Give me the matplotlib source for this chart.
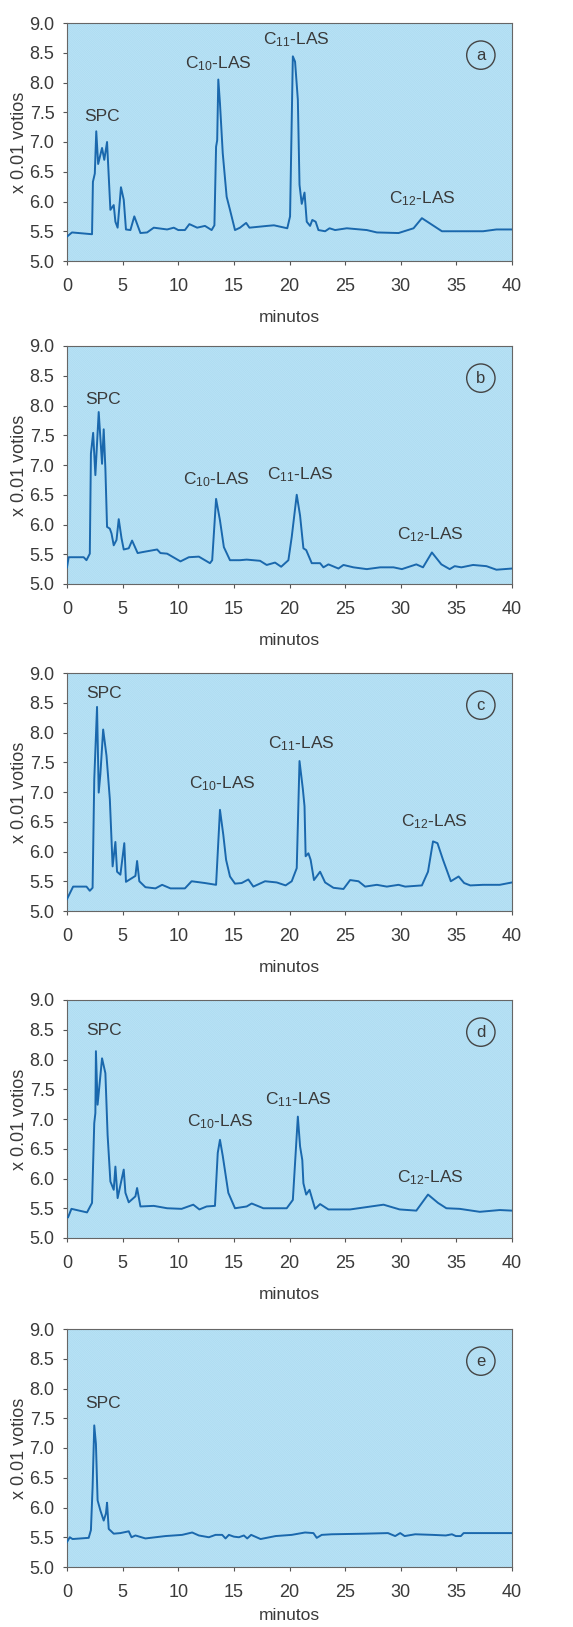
import matplotlib
matplotlib.use('Agg')
import matplotlib.pyplot as plt
from matplotlib.patches import Rectangle

plt.rcParams['font.family'] = ['Liberation Sans', 'DejaVu Sans']
plt.rcParams['mathtext.fontset'] = 'custom'
plt.rcParams['mathtext.rm'] = 'Liberation Sans'
plt.rcParams['mathtext.it'] = 'Liberation Sans'
plt.rcParams['hatch.linewidth'] = 0.5

# Chromatograms (minutes, x 0.01 volts).
TIME_A = [0, 0.45, 2.25, 2.33, 2.5, 2.63, 2.8, 3.15, 3.35, 3.6, 3.9, 4.2, 4.35, 4.55, 4.85,
          5.1, 5.3, 5.7, 6.05, 6.6, 7.2, 7.8, 9.0, 9.6, 10.0, 10.6, 11.0, 11.7, 12.4, 13.0,
          13.25, 13.4, 13.5, 13.6, 13.75, 14.0, 14.35, 14.65, 15.1, 15.55, 16.1, 16.4, 18.0,
          18.6, 19.8, 20.05, 20.3, 20.5, 20.75, 20.9, 21.1, 21.35, 21.55, 21.85, 22.05, 22.35,
          22.6, 23.2, 23.6, 24.1, 25.15, 26.95, 27.85, 29.8, 31.15, 31.9, 33.7, 35.9, 37.4,
          38.6, 40]
SIGNAL_A = [5.41, 5.48, 5.45, 6.33, 6.47, 7.18, 6.63, 6.9, 6.7, 7.0, 5.86, 5.94, 5.66, 5.56, 6.24,
            6.03, 5.53, 5.52, 5.75, 5.47, 5.48, 5.56, 5.53, 5.56, 5.52, 5.52, 5.62, 5.56, 5.59, 5.52,
            5.6, 6.92, 7.03, 8.05, 7.65, 6.81, 6.08, 5.86, 5.52, 5.56, 5.64, 5.56, 5.59,
            5.6, 5.55, 5.75, 8.44, 8.35, 7.71, 6.28, 5.96, 6.15, 5.66, 5.59, 5.69, 5.66,
            5.52, 5.5, 5.55, 5.52, 5.55, 5.52, 5.48, 5.47, 5.55, 5.72, 5.5, 5.5, 5.5,
            5.53, 5.53]

TIME_B = [0, 0.15, 1.5, 1.75, 2.05, 2.15, 2.35, 2.55, 2.85, 3.15, 3.3, 3.45, 3.6, 3.85, 4.0,
          4.2, 4.45, 4.65, 4.9, 5.1, 5.55, 5.85, 6.35, 6.9, 8.1, 8.4, 9.0, 10.2, 10.95, 11.85,
          12.85, 13.05, 13.4, 13.75, 14.1, 14.65, 15.55, 16.15, 17.35, 17.95, 18.7, 19.25,
          19.9, 20.2, 20.65, 20.95, 21.25, 21.5, 22.0, 22.75, 23.05, 23.5, 24.4, 24.85, 25.75,
          26.95, 28.15, 29.35, 30.1, 31.4, 32.0, 32.8, 33.65, 34.4, 34.85, 35.45, 36.5, 37.7,
          38.6, 40]
SIGNAL_B = [5.28, 5.45, 5.45, 5.4, 5.51, 7.19, 7.54, 6.83, 7.89, 7.02, 7.6, 6.94, 5.96, 5.93, 5.85,
            5.65, 5.74, 6.09, 5.77, 5.58, 5.6, 5.73, 5.52, 5.54, 5.58, 5.52, 5.51, 5.38, 5.45, 5.46,
            5.35, 5.4, 6.43, 6.07, 5.62, 5.4, 5.4, 5.41, 5.39, 5.32, 5.36, 5.29,
            5.4, 5.79, 6.5, 6.15, 5.6, 5.57, 5.35, 5.35, 5.28, 5.33, 5.26, 5.32, 5.28,
            5.25, 5.28, 5.28, 5.25, 5.33, 5.28, 5.53, 5.33, 5.25, 5.3, 5.28, 5.32, 5.3,
            5.24, 5.26]

TIME_C = [0, 0.55, 1.75, 2.05, 2.3, 2.45, 2.7, 2.85, 3.0, 3.25, 3.55, 3.85, 4.1, 4.35, 4.5,
          4.8, 5.15, 5.3, 6.15, 6.3, 6.5, 7.05, 7.95, 8.55, 9.3, 10.6, 11.2, 12.4, 13.4, 13.75,
          14.05, 14.3, 14.65, 15.1, 15.7, 16.3, 16.75, 17.8, 18.85, 19.65, 20.2, 20.65, 20.9,
          21.2, 21.35, 21.45, 21.7, 21.9, 22.2, 22.75, 23.2, 23.95, 24.85, 25.45, 26.2, 26.8,
          27.85, 28.75, 29.8, 30.4, 31.9, 32.45, 32.9, 33.3, 33.8, 34.5, 35.2, 35.7, 36.25,
          37.4, 38.9, 40]
SIGNAL_C = [5.2, 5.41, 5.41, 5.34, 5.39, 7.21, 8.43, 6.99, 7.3, 8.05, 7.61, 6.88, 5.75, 6.16, 5.66,
            5.61, 6.14, 5.49, 5.59, 5.84, 5.5, 5.4, 5.38, 5.44, 5.38, 5.38, 5.5, 5.47, 5.44, 6.7,
            6.28, 5.86, 5.58, 5.46, 5.47, 5.53, 5.41, 5.5, 5.48, 5.43, 5.5, 5.72, 7.52,
            7.05, 6.76, 5.92, 5.97, 5.86, 5.52, 5.66, 5.48, 5.39, 5.37, 5.52, 5.5, 5.41,
            5.44, 5.41, 5.44, 5.41, 5.43, 5.66, 6.17, 6.14, 5.86, 5.5, 5.58, 5.47, 5.43,
            5.44, 5.44, 5.48]

TIME_D = [0.1, 0.4, 1.8, 2.25, 2.45, 2.55, 2.6, 2.75, 3.15, 3.45, 3.65, 3.9, 4.2, 4.35, 4.55,
          5.1, 5.25, 5.55, 6.15, 6.3, 6.6, 7.8, 9.0, 10.3, 11.35, 11.9, 12.55, 13.3, 13.55,
          13.75, 14.0, 14.5, 15.1, 16.15, 16.6, 17.65, 19.75, 20.3, 20.5, 20.75, 20.95, 21.15,
          21.25, 21.5, 21.8, 22.3, 22.75, 23.5, 25.45, 26.95, 28.45, 29.9, 31.4, 32.45, 33.35,
          34.1, 35.3, 37.1, 38.9, 40]
SIGNAL_D = [5.35, 5.49, 5.43, 5.59, 6.93, 7.1, 8.14, 7.24, 8.02, 7.77, 6.73, 5.95, 5.81, 6.2, 5.67,
            6.15, 5.76, 5.6, 5.7, 5.84, 5.53, 5.54, 5.5, 5.49, 5.56, 5.48, 5.53, 5.54, 6.43,
            6.65, 6.38, 5.76, 5.5, 5.53, 5.58, 5.5, 5.5, 5.64, 6.26, 7.04, 6.54, 6.31,
            5.92, 5.73, 5.81, 5.49, 5.57, 5.48, 5.48, 5.52, 5.56, 5.48, 5.46, 5.73, 5.59,
            5.5, 5.49, 5.44, 5.47, 5.46]

TIME_E = [0, 0.25, 0.5, 1.95, 2.15, 2.3, 2.45, 2.6, 2.75, 3.0, 3.3, 3.5, 3.6, 3.75, 4.2, 4.8,
          5.55, 5.8, 6.15, 7.05, 8.85, 10.35, 11.25, 11.85, 12.75, 13.35, 13.95, 14.25, 14.55,
          15.0, 15.45, 15.9, 16.2, 16.55, 17.4, 18.75, 20.2, 21.4, 22.15, 22.45, 22.9, 23.8,
          26.75, 28.85, 29.5, 29.95, 30.35, 31.3, 32.85, 34.05, 34.6, 34.95, 35.4, 35.65,
          37.35, 40]
SIGNAL_E = [5.42, 5.5, 5.47, 5.49, 5.62, 6.34, 7.38, 7.07, 6.12, 5.95, 5.78, 5.9, 6.08, 5.64, 5.56, 5.57,
            5.6, 5.5, 5.53, 5.48, 5.52, 5.54, 5.58, 5.53, 5.5, 5.54, 5.54, 5.48, 5.54,
            5.51, 5.5, 5.53, 5.48, 5.54, 5.47, 5.52, 5.54, 5.58, 5.57, 5.49, 5.54, 5.55,
            5.56, 5.57, 5.52, 5.57, 5.52, 5.55, 5.54, 5.53, 5.55, 5.52, 5.52, 5.57,
            5.57, 5.57]

PANEL_LETTERS = ['a', 'b', 'c', 'd', 'e']

# Peak labels per panel: (text, minutes, baseline value)
LABELS_A = [('SPC', 3.15, 7.36), ('C$_{10}$-LAS', 13.6, 8.24),
            ('C$_{11}$-LAS', 20.6, 8.64), ('C$_{12}$-LAS', 31.95, 5.97)]
LABELS_B = [('SPC', 3.2, 8.03), ('C$_{10}$-LAS', 13.43, 6.68),
            ('C$_{11}$-LAS', 20.97, 6.76), ('C$_{12}$-LAS', 32.7, 5.75)]
LABELS_C = [('SPC', 3.3, 8.58), ('C$_{10}$-LAS', 13.97, 7.06),
            ('C$_{11}$-LAS', 21.1, 7.73), ('C$_{12}$-LAS', 32.97, 6.43)]
LABELS_D = [('SPC', 3.35, 8.41), ('C$_{10}$-LAS', 13.76, 6.87),
            ('C$_{11}$-LAS', 20.83, 7.25), ('C$_{12}$-LAS', 32.67, 5.93)]
LABELS_E = [('SPC', 3.24, 7.67)]

X_TICKS = [0, 5, 10, 15, 20, 25, 30, 35, 40]
Y_TICKS = [5.0, 5.5, 6.0, 6.5, 7.0, 7.5, 8.0, 8.5, 9.0]

TEXT_COLOR = '#3a3a3a'
LINE_COLOR = '#1a68ad'
FACE_COLOR = '#a9daf1'


def draw_panel(ax, times, signal, labels, letter, xlabel_pad):
    ax.set_facecolor(FACE_COLOR)
    ax.add_patch(Rectangle((0, 0), 1, 1, transform=ax.transAxes, facecolor='none',
                           edgecolor='#bde4f6', hatch='\\' * 18, linewidth=0, zorder=0))
    ax.plot(times, signal, color=LINE_COLOR, linewidth=1.4, zorder=3)

    ax.set_xlim(0, 40)
    ax.set_ylim(5.0, 9.0)
    ax.set_xticks(X_TICKS)
    ax.set_yticks(Y_TICKS)
    ax.set_yticklabels([f'{v:.1f}' for v in Y_TICKS])
    ax.tick_params(axis='both', direction='out', length=3, width=0.8, color='#555555',
                   labelsize=13, labelcolor=TEXT_COLOR)
    ax.tick_params(axis='x', pad=9)
    ax.tick_params(axis='y', pad=6)
    for spine in ax.spines.values():
        spine.set_color('#666666')
        spine.set_linewidth(0.8)

    ax.set_xlabel('minutos', fontsize=12.5, color=TEXT_COLOR, labelpad=xlabel_pad)
    ax.set_ylabel('x 0.01 votios', fontsize=13, color=TEXT_COLOR, labelpad=1)

    for text, x, y in labels:
        ax.text(x, y, text, ha='center', va='baseline', fontsize=12.5, color=TEXT_COLOR, zorder=4)

    ax.text(0.93, 0.865, letter, transform=ax.transAxes, ha='center', va='center',
            fontsize=12, color=TEXT_COLOR, zorder=4,
            bbox=dict(boxstyle='circle,pad=0.4', facecolor='none', edgecolor='#444444', linewidth=1))


def main() -> None:
    fig = plt.figure(figsize=(5.73, 16.27), dpi=100)
    fig.patch.set_facecolor('white')

    bottoms_px = [261, 584, 911, 1238, 1567]
    xlabel_pads = [11, 11, 11, 11, 5]
    series = [
        (TIME_A, SIGNAL_A, LABELS_A),
        (TIME_B, SIGNAL_B, LABELS_B),
        (TIME_C, SIGNAL_C, LABELS_C),
        (TIME_D, SIGNAL_D, LABELS_D),
        (TIME_E, SIGNAL_E, LABELS_E),
    ]
    for bottom_px, pad, (times, signal, labels), letter in zip(bottoms_px, xlabel_pads, series, PANEL_LETTERS):
        ax = fig.add_axes([67 / 573, 1 - bottom_px / 1627, 445 / 573, 238 / 1627])
        draw_panel(ax, times, signal, labels, letter, pad)

    fig.savefig('out.png', dpi=100)


if __name__ == '__main__':
    main()
